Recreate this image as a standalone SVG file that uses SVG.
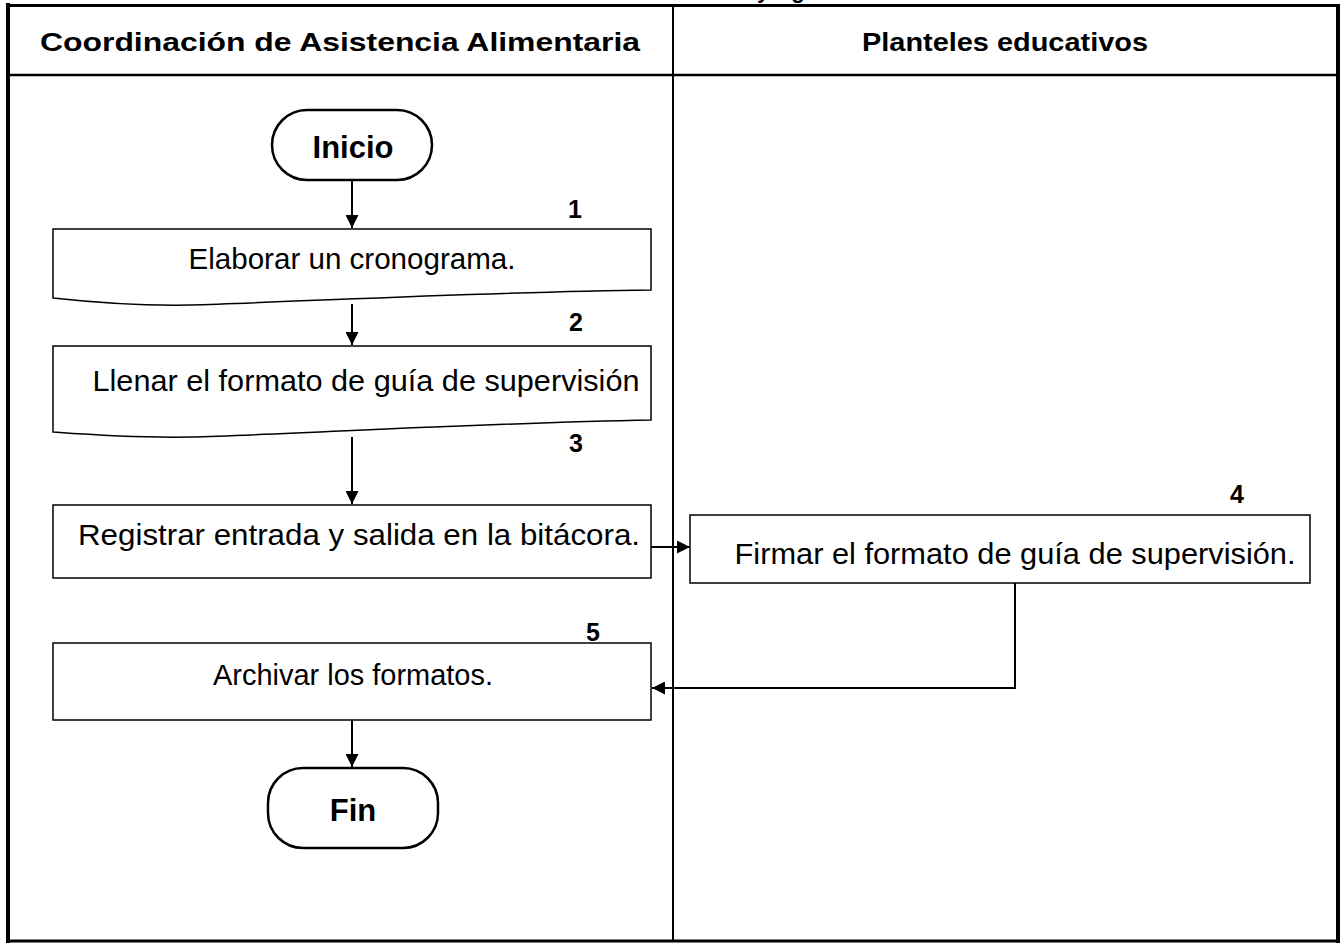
<svg xmlns="http://www.w3.org/2000/svg" width="1340" height="943" viewBox="0 0 1340 943">
<defs>
<style>
.lane{fill:none;stroke:#000;}
.box{fill:#fff;stroke:#000;stroke-width:1.5;}
.pill{fill:#fff;stroke:#000;stroke-width:2.5;}
.t{font-family:"Liberation Sans",Arial,sans-serif;font-size:29px;fill:#000;text-anchor:middle;}
.b{font-family:"Liberation Sans",Arial,sans-serif;font-weight:bold;fill:#000;text-anchor:middle;}
.num{font-family:"Liberation Sans",Arial,sans-serif;font-weight:bold;font-size:25px;fill:#000;text-anchor:middle;}
.c{fill:none;stroke:#000;stroke-width:2;}
</style>
<marker id="ah" viewBox="0 0 10 10" refX="10" refY="5" markerWidth="6.5" markerHeight="6.5" markerUnits="strokeWidth" orient="auto">
<path d="M0,0 L10,5 L0,10 z" fill="#000"/>
</marker>
</defs>
<rect width="1340" height="943" fill="#fff"/>
<text class="b" x="763" y="-2" style="font-size:22px">y</text>
<text class="b" x="798" y="-2" style="font-size:22px">g</text>
<g id="lanes">
<line class="lane" x1="8" y1="3" x2="8" y2="943" stroke-width="4"/>
<line class="lane" x1="6" y1="5.5" x2="1340" y2="5.5" stroke-width="3"/>
<line class="lane" x1="1338" y1="4" x2="1338" y2="943" stroke-width="4"/>
<line class="lane" x1="6" y1="941" x2="1340" y2="941" stroke-width="3"/>
<line class="lane" x1="8" y1="75" x2="1338" y2="75" stroke-width="2.5"/>
<line class="lane" x1="673" y1="5" x2="673" y2="941" stroke-width="2"/>
<text class="b" x="340" y="51" style="font-size:26px" textLength="600" lengthAdjust="spacingAndGlyphs">Coordinación de Asistencia Alimentaria</text>
<text class="b" x="1005" y="51" style="font-size:26px" textLength="286" lengthAdjust="spacingAndGlyphs">Planteles educativos</text>
</g>
<g id="connectors">
<line class="c" x1="352" y1="180" x2="352" y2="228" marker-end="url(#ah)"/>
<line class="c" x1="352" y1="304" x2="352" y2="345" marker-end="url(#ah)"/>
<line class="c" x1="352" y1="437" x2="352" y2="504" marker-end="url(#ah)"/>
<line class="c" x1="651" y1="547" x2="690" y2="547" marker-end="url(#ah)"/>
<polyline class="c" points="1015,583 1015,688 652,688" marker-end="url(#ah)"/>
<line class="c" x1="352" y1="720" x2="352" y2="767" marker-end="url(#ah)"/>
</g>
<g id="inicio">
<rect class="pill" x="272" y="110" width="160" height="70" rx="35"/>
<text class="b" x="353" y="158" style="font-size:31px">Inicio</text>
</g>
<g id="step1">
<text class="num" x="575" y="218">1</text>
<path class="box" d="M53,229 H651 V290 C480,292 300,302 190,305 C130,306 80,301 53,298 Z"/>
<text class="t" x="352" y="269" textLength="327" lengthAdjust="spacingAndGlyphs">Elaborar un cronograma.</text>
</g>
<g id="step2">
<text class="num" x="576" y="331">2</text>
<path class="box" d="M53,346 H651 V420 C480,423 300,434 190,437 C130,438 80,434 53,432 Z"/>
<text class="t" x="366" y="391" textLength="547" lengthAdjust="spacingAndGlyphs">Llenar el formato de guía de supervisión</text>
</g>
<g id="step3">
<text class="num" x="576" y="452">3</text>
<rect class="box" x="53" y="505" width="598" height="73"/>
<text class="t" x="359" y="545" textLength="562" lengthAdjust="spacingAndGlyphs">Registrar entrada y salida en la bitácora.</text>
</g>
<g id="step4">
<text class="num" x="1237" y="503">4</text>
<rect class="box" x="690" y="515" width="620" height="68"/>
<text class="t" x="1015" y="564" textLength="561" lengthAdjust="spacingAndGlyphs">Firmar el formato de guía de supervisión.</text>
</g>
<g id="step5">
<text class="num" x="593" y="641">5</text>
<rect class="box" x="53" y="643" width="598" height="77"/>
<text class="t" x="353" y="685" textLength="280" lengthAdjust="spacingAndGlyphs">Archivar los formatos.</text>
</g>
<g id="fin">
<rect class="pill" x="268" y="768" width="170" height="80" rx="35"/>
<text class="b" x="353" y="821" style="font-size:31px">Fin</text>
</g>
</svg>
